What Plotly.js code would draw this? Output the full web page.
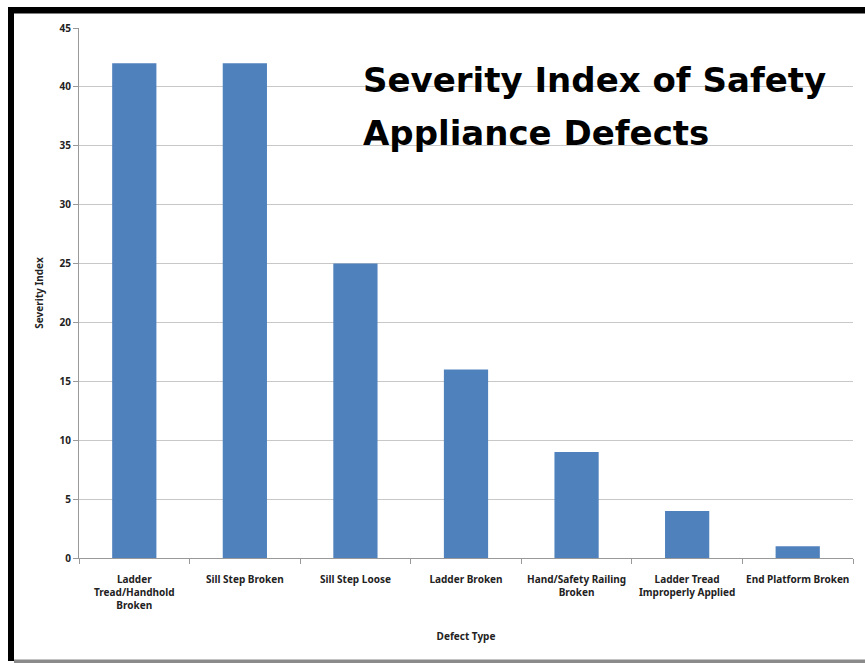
<!DOCTYPE html>
<html>
<head>
<meta charset="utf-8">
<script src="https://cdn.plot.ly/plotly-3.0.1.min.js"></script>
<style>html,body{margin:0;padding:0;background:#fff;}#chart{width:865px;height:663px;}</style>
</head>
<body>
<div id="chart"></div>
<script>
const categories = [
  "Ladder<br>Tread/Handhold<br>Broken",
  "Sill Step Broken",
  "Sill Step Loose",
  "Ladder Broken",
  "Hand/Safety Railing<br>Broken",
  "Ladder Tread<br>Improperly Applied",
  "End Platform Broken"
];
const severity = [42, 42, 25, 16, 9, 4, 1];
const yTicks = [0, 5, 10, 15, 20, 25, 30, 35, 40, 45];
const titleLines = ["Severity Index of Safety", "Appliance Defects"];

const L = 79, R = 12, T = 28, B = 105, W = 865, H = 663;
const pw = W - L - R, ph = H - T - B;
const px = x => (x - L) / pw;
const py = y => (H - B - y) / ph;

const fam = "Noto Sans, Open Sans, sans-serif";
const small = {family: fam, size: 10, color: "#222", weight: "bold"};
const titleFont = {family: "DejaVu Sans, Noto Sans, sans-serif", size: 34, color: "#000", weight: "bold"};

const data = [{
  type: "bar",
  x: categories,
  y: severity,
  marker: {color: "#4f81bd"},
  hoverinfo: "x+y"
}];

const layout = {
  width: W, height: H,
  margin: {l: L, r: R, t: T, b: B},
  paper_bgcolor: "#ffffff",
  plot_bgcolor: "#ffffff",
  showlegend: false,
  bargap: 0.6,
  font: small,
  xaxis: {
    type: "category",
    tickson: "boundaries",
    ticks: "outside", ticklen: 5, tickcolor: "#999",
    showline: true, linecolor: "#999", linewidth: 1,
    showgrid: false,
    tickangle: 0,
    ticklabelstandoff: 12,
    tickfont: small,
    title: {text: "Defect Type", font: small, standoff: 21},
    automargin: false
  },
  yaxis: {
    range: [0, 45],
    tickvals: yTicks,
    ticktext: yTicks.map(String),
    ticks: "outside", ticklen: 5, tickcolor: "#999",
    showline: true, linecolor: "#999", linewidth: 1,
    showgrid: true, gridcolor: "#c8c8c8", gridwidth: 1,
    zeroline: false,
    tickfont: small,
    title: {text: "Severity Index", font: small, standoff: 14},
    automargin: false
  },
  annotations: titleLines.map((t, i) => ({
    xref: "paper", yref: "paper",
    x: px(361), y: py(80 + 53 * i), xanchor: "left", yanchor: "middle",
    align: "left", showarrow: false,
    text: t,
    font: titleFont
  })),
  shapes: [
    {type: "rect", xref: "paper", yref: "paper", x0: px(8), x1: px(865), y0: py(13.5), y1: py(7), fillcolor: "#000", line: {width: 0}, layer: "above"},
    {type: "rect", xref: "paper", yref: "paper", x0: px(8), x1: px(14), y0: py(661), y1: py(7), fillcolor: "#000", line: {width: 0}, layer: "above"},
    {type: "rect", xref: "paper", yref: "paper", x0: px(14), x1: px(865), y0: py(663), y1: py(659.5), fillcolor: "#8a8a8a", line: {width: 0}, layer: "above"}
  ]
};

Plotly.newPlot("chart", data, layout, {displayModeBar: false, staticPlot: true});
</script>
</body>
</html>
